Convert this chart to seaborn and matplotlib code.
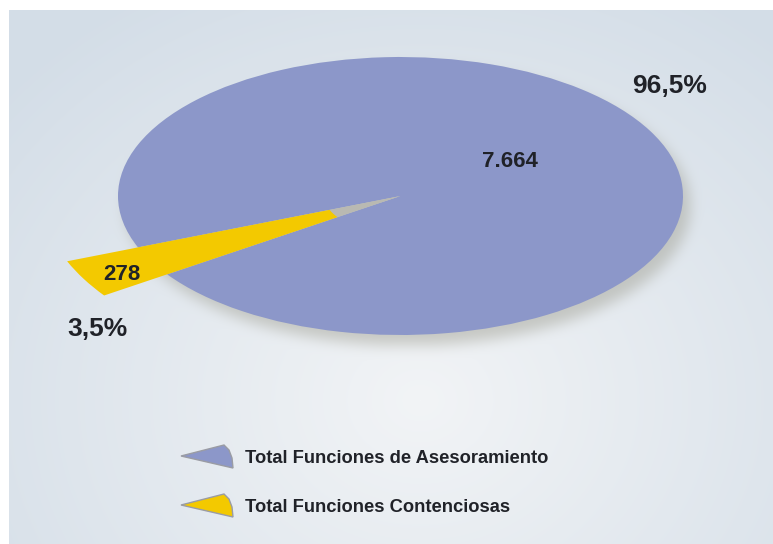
import numpy as np
import matplotlib
matplotlib.use("Agg")
import matplotlib.pyplot as plt
from matplotlib.patches import Polygon
import seaborn as sns

# Data
categories = ["Total Funciones de Asesoramiento", "Total Funciones Contenciosas"]
values = [7664, 278]
colors = ["#8c97c9", "#f3c900"]

sns.set_theme(style="white")
plt.rcParams["font.family"] = ["Liberation Sans", "DejaVu Sans"]
palette = sns.color_palette(colors)

W, H = 773, 544
fig = plt.figure(figsize=(W / 100, H / 100), dpi=100)

# Ellipse geometry (pixels)
cx, cy, a, b = 400.5, 196.0, 282.5, 139.0

# ---- background panel with soft radial gradient and drop shadow ----
yy, xx = np.mgrid[0:H, 0:W].astype(float)
d = np.sqrt(((xx - 420) / 560) ** 2 + ((yy - 400) / 480) ** 2)
d = np.clip(d, 0, 1)
c_in = np.array([242, 244, 246]) / 255
c_out = np.array([211, 221, 231]) / 255
img = c_in[None, None, :] * (1 - d[..., None]) + c_out[None, None, :] * d[..., None]


def box_blur(arr, r):
    for axis in (0, 1):
        pad = [(0, 0), (0, 0)]
        pad[axis] = (r + 1, r)
        p = np.pad(arr, pad, mode="edge")
        cs = np.cumsum(p, axis=axis)
        if axis == 0:
            arr = (cs[2 * r + 1:, :] - cs[:-2 * r - 1, :]) / (2 * r + 1)
        else:
            arr = (cs[:, 2 * r + 1:] - cs[:, :-2 * r - 1]) / (2 * r + 1)
    return arr


mask = ((((xx - cx - 7) / a) ** 2 + ((yy - cy - 10) / b) ** 2) <= 1).astype(float)
for _ in range(3):
    mask = box_blur(mask, 6)
shadow_col = np.array([160, 160, 148]) / 255
alpha = 0.5 * mask[..., None]
img = img * (1 - alpha) + shadow_col[None, None, :] * alpha

# white margin at top and left
img[:10, :, :] = 1.0
img[:, :9, :] = 1.0

bg = fig.add_axes([0, 0, 1, 1])
bg.imshow(img, extent=(0, W, H, 0), aspect="auto", interpolation="bilinear")
bg.set_xlim(0, W)
bg.set_ylim(H, 0)
bg.axis("off")

# ---- pie, squashed into an ellipse via the axes extent ----
lim = 1.4
ax = fig.add_axes([(cx - lim * a) / W, (H - (cy + lim * b)) / H,
                   2 * lim * a / W, 2 * lim * b / H])
ax.set_facecolor("none")
total = sum(values)
span = 360 * values[1] / total
start = 208 - span / 2 - (360 - span)

ax.pie(values, colors=[palette[0], "#b9b9b2"], startangle=start,
       radius=1.0, wedgeprops=dict(linewidth=0), counterclock=True)
ax.pie(values, colors=["none", palette[1]], startangle=start,
       radius=1.27, wedgeprops=dict(width=1.0, linewidth=0), counterclock=True)
ax.set_xlim(-lim, lim)
ax.set_ylim(-lim, lim)
ax.set_aspect("auto")
ax.axis("off")


def fmt_count(v):
    return f"{v:,}".replace(",", ".")


def fmt_pct(v):
    return f"{100 * v / total:.1f}".replace(".", ",") + "%"


def ftext(x, y, s, size, **kw):
    fig.text(x / W, 1 - y / H, s, fontsize=size, fontweight="bold",
             color="#202228", va="baseline", ha="left", **kw)


ftext(632, 93, fmt_pct(values[0]), 19)
ftext(482, 167, fmt_count(values[0]), 16)
ftext(103, 280, fmt_count(values[1]), 16)
ftext(67, 336, fmt_pct(values[1]), 19)

# ---- legend with wedge-shaped keys ----
ov = fig.add_axes([0, 0, 1, 1])
ov.set_facecolor("none")
ov.set_xlim(0, W)
ov.set_ylim(H, 0)
ov.axis("off")
key_shape = np.array([[181, 11], [224, 0], [229, 5], [232, 13], [233, 23]], dtype=float)
legend_y = [445, 494]
for i, (lab, y0) in enumerate(zip(categories, legend_y)):
    pts = key_shape + np.array([0, y0])
    ov.add_patch(Polygon(pts, closed=True, facecolor=palette[i],
                         edgecolor="#9a9ca4", linewidth=1.0))
    ftext(245, y0 + 18, lab, 13.2)

fig.savefig("out.png", dpi=100)
